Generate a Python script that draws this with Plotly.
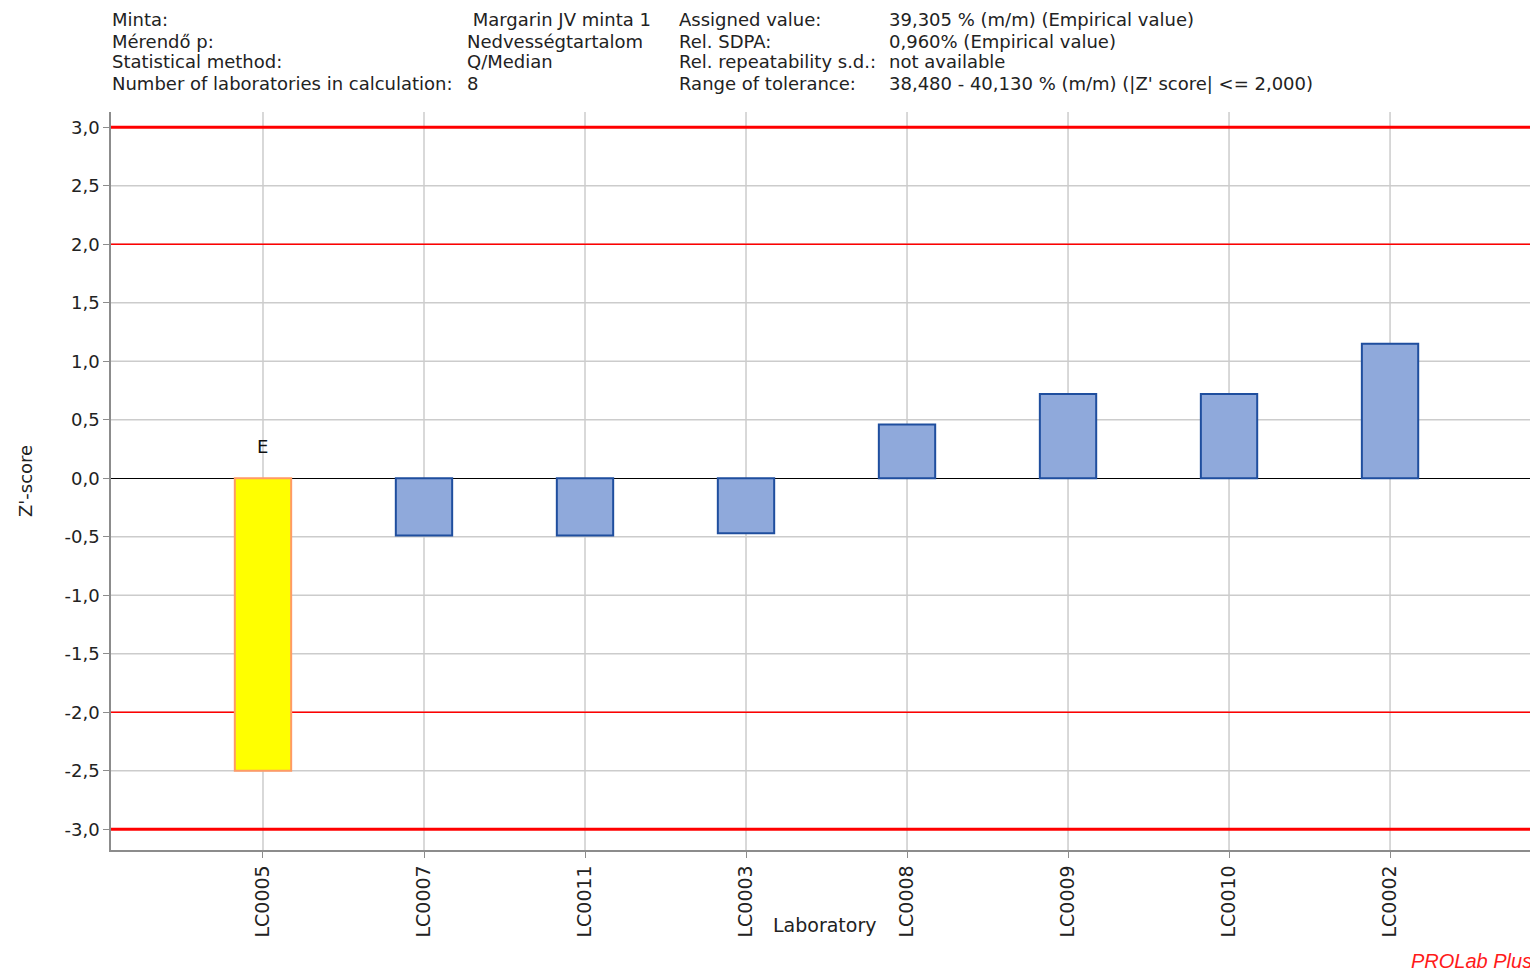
import plotly.graph_objects as go

# laboratories in plot order and their Z'-scores
labs = ["LC0005", "LC0007", "LC0011", "LC0003", "LC0008", "LC0009", "LC0010", "LC0002"]
zscores = [-2.50, -0.49, -0.49, -0.47, 0.46, 0.72, 0.72, 1.15]
flags = ["E", "", "", "", "", "", "", ""]

# tolerance limits (|Z'| <= 2) and action limits (|Z'| <= 3)
warn_limits = [2.0, -2.0]
action_limits = [3.0, -3.0]

# y ticks, labelled with decimal comma and plain hyphen
ytick_vals = [-3.0, -2.5, -2.0, -1.5, -1.0, -0.5, 0.0, 0.5, 1.0, 1.5, 2.0, 2.5, 3.0]
ytick_text = [f"{v:.1f}".replace(".", ",") for v in ytick_vals]

header_left = [
    ("Minta:", " Margarin JV minta 1"),
    ("Mérendő p:", "Nedvességtartalom"),
    ("Statistical method:", "Q/Median"),
    ("Number of laboratories in calculation:", "8"),
]
header_right = [
    ("Assigned value:", "39,305 % (m/m) (Empirical value)"),
    ("Rel. SDPA:", "0,960% (Empirical value)"),
    ("Rel. repeatability s.d.:", "not available"),
    ("Range of tolerance:", "38,480 - 40,130 % (m/m) (|Z' score| <= 2,000)"),
]

# page body has an 8px margin, so the figure is drawn 8px in from the corner
OFF = 8
W, H = 1538 - OFF, 971 - OFF
L, R, T, B = 111 - OFF, 0, 112 - OFF, 971 - 850
FONT = "DejaVu Sans"
GRID = "#CCCCCC"


def px_x(px):
    return (px - OFF - L) / (W - L - R)


def px_y(py):
    return (H - B - (py - OFF)) / (H - T - B)


fill = ["#FFFF00" if f else "#8FA9DB" for f in flags]
edge = ["#FF9A66" if f else "#1F4E9E" for f in flags]

fig = go.Figure()
fig.add_trace(go.Bar(
    x=labs, y=zscores, width=0.35,
    marker=dict(color=fill, line=dict(color=edge, width=2)),
    hoverinfo="x+y",
))

# grid drawn as shapes so the red limit lines can sit on top of it but under the bars
for v in ytick_vals:
    if v != 0:
        fig.add_hline(y=v, line=dict(color=GRID, width=1.5), layer="below")
for lab in labs:
    fig.add_vline(x=lab, line=dict(color=GRID, width=1.5), layer="below")
for v in warn_limits:
    fig.add_hline(y=v, line=dict(color="#FF0000", width=1.5), layer="below")
for v in action_limits:
    fig.add_hline(y=v, line=dict(color="#FF0000", width=3), layer="below")

for lab, f in zip(labs, flags):
    if f:
        fig.add_annotation(x=lab, y=0, text=f, showarrow=False, yanchor="bottom",
                           yshift=19, font=dict(family=FONT, size=18, color="#111"))

txt = dict(family=FONT, size=18, color="#222")
rows_y = [20, 41, 62, 83]
for (k, v), yy in zip(header_left, rows_y):
    fig.add_annotation(x=px_x(110), y=px_y(yy), xref="paper", yref="paper", text=k,
                       xanchor="left", yanchor="middle", showarrow=False, font=txt)
    fig.add_annotation(x=px_x(465), y=px_y(yy), xref="paper", yref="paper", text=v,
                       xanchor="left", yanchor="middle", showarrow=False, font=txt)
for (k, v), yy in zip(header_right, rows_y):
    fig.add_annotation(x=px_x(677), y=px_y(yy), xref="paper", yref="paper", text=k,
                       xanchor="left", yanchor="middle", showarrow=False, font=txt)
    fig.add_annotation(x=px_x(887), y=px_y(yy), xref="paper", yref="paper", text=v,
                       xanchor="left", yanchor="middle", showarrow=False, font=txt)

fig.add_annotation(x=0.5, y=px_y(925), xref="paper", yref="paper", text="Laboratory",
                   yanchor="middle", showarrow=False, font=dict(family=FONT, size=19, color="#222"))
fig.add_annotation(x=px_x(25), y=0.5, xref="paper", yref="paper", text="Z'-score",
                   textangle=-90, xanchor="center", yanchor="middle", showarrow=False,
                   font=dict(family=FONT, size=18, color="#222"))
fig.add_annotation(x=px_x(1534), y=px_y(961), xref="paper", yref="paper", text="<i>PROLab Plus</i>",
                   xanchor="right", yanchor="middle", showarrow=False,
                   font=dict(family="Liberation Sans", size=20, color="#FF1A1A"))

fig.update_layout(
    width=W, height=H,
    margin=dict(l=L, r=R, t=T, b=B),
    paper_bgcolor="white", plot_bgcolor="white",
    showlegend=False,
    font=txt,
)
fig.update_xaxes(
    range=[-0.944, 7.919], tickangle=-90, showgrid=False,
    showline=True, linecolor="#8C8C8C", linewidth=1.5,
    ticks="outside", ticklen=6, tickcolor="#8C8C8C",
    tickfont=dict(family=FONT, size=19, color="#222"),
)
fig.update_yaxes(
    range=[-3.177, 3.13], tickvals=ytick_vals, ticktext=ytick_text, showgrid=False,
    zeroline=True, zerolinecolor="#000000", zerolinewidth=1,
    showline=True, linecolor="#8C8C8C", linewidth=1.5,
    ticks="outside", ticklen=6, tickcolor="#8C8C8C",
    tickfont=dict(family=FONT, size=18, color="#222"),
)

fig.write_html("out.html")
